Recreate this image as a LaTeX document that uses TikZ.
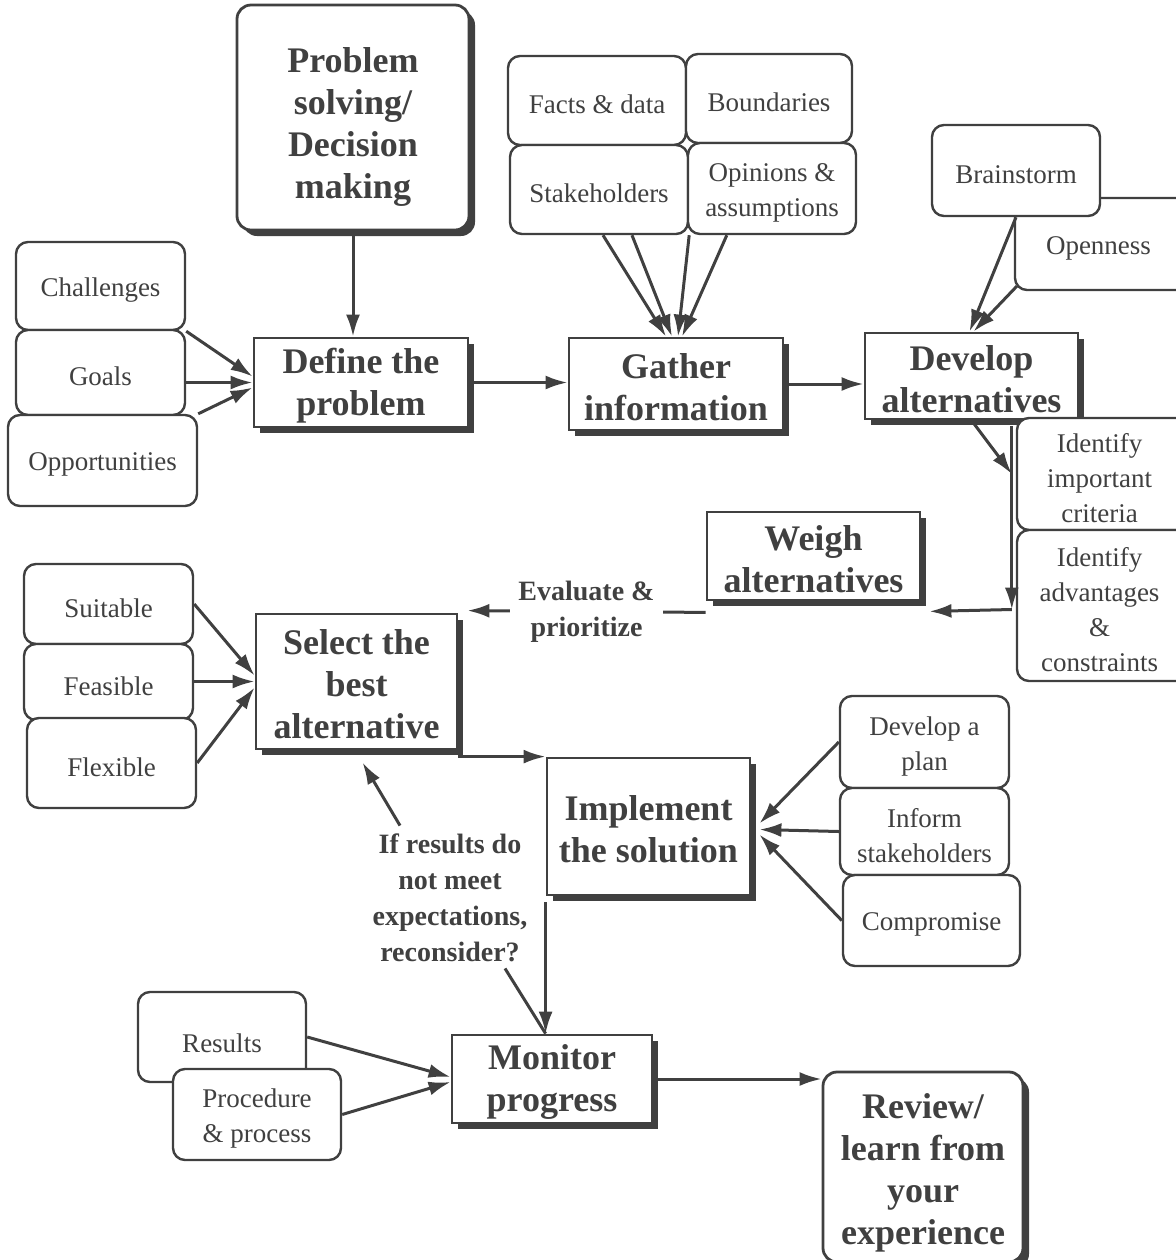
\documentclass[tikz,border=0pt]{standalone}
\usepackage{fontspec}
\setmainfont{Liberation Serif}
\usetikzlibrary{arrows.meta,shadows,fit,calc}
\definecolor{ink}{HTML}{404040}
\newcommand\stepfont{\bfseries\fontsize{18}{21}\selectfont}
\newcommand\itemfont{\fontsize{13.5}{17.5}\selectfont}
\newcommand\notefont{\bfseries\fontsize{14}{18}\selectfont}

\begin{document}
\begin{tikzpicture}[x=0.5pt,y=-0.5pt,
  stepbox/.style={draw=ink, line width=1.4pt, fill=white, inner sep=0pt,
    drop shadow={shadow xshift=3pt, shadow yshift=-3pt, fill=ink, opacity=1}},
  roundstep/.style={stepbox, rounded corners=7pt},
  steptext/.style={align=center, font=\stepfont, text=ink, inner sep=0pt, yshift=-1.5pt},
  itembox/.style={draw=ink, line width=1.2pt, fill=white, rounded corners=6pt,
    inner sep=0pt},
  itemtext/.style={align=center, font=\itemfont, text=ink, inner sep=0pt, yshift=-2pt},
  conn/.style={draw=ink, line width=1.5pt},
  arr/.style={conn, -{Latex[length=11pt,width=7pt]}},
  note/.style={font=\notefont, text=ink, align=center, inner sep=2pt}]

\useasboundingbox (0,0) rectangle (1176,1260);

% main process steps
\node[roundstep, fit={(237,5) (469,230)},
  label={[steptext, yshift=-3pt]center:{Problem\\solving/\\Decision\\making}}] (ps) {};
\node[stepbox, fit={(254,338) (468,427)},
  label={[steptext]center:{Define the\\problem}}] (def) {};
\node[stepbox, fit={(569,338) (783,430)},
  label={[steptext]center:{Gather\\information}}] (gat) {};
\node[stepbox, fit={(865,333) (1078,419)},
  label={[steptext]center:{Develop\\alternatives}}] (dev) {};
\node[stepbox, fit={(707,512) (920,600)},
  label={[steptext]center:{Weigh\\alternatives}}] (wei) {};
\node[stepbox, fit={(256,614) (457,749)},
  label={[steptext]center:{Select the\\best\\alternative}}] (sel) {};
\node[stepbox, fit={(547,758) (750,895)},
  label={[steptext]center:{Implement\\the solution}}] (imp) {};
\node[stepbox, fit={(452,1035) (652,1123)},
  label={[steptext]center:{Monitor\\progress}}] (mon) {};
\node[roundstep, fit={(823,1072) (1023,1262)},
  label={[steptext, yshift=-1.5pt]center:{Review/\\learn from\\your\\experience}}] (rev) {};

% supporting items
\node[itembox, fit={(16,242) (185,330)}, label={[itemtext]center:Challenges}] (chal) {};
\node[itembox, fit={(16,330) (185,415)}, label={[itemtext]center:Goals}] (goal) {};
\node[itembox, fit={(8,415) (197,506)}, label={[itemtext]center:Opportunities}] (opp) {};

\node[itembox, fit={(508,56) (686,145)}, label={[itemtext]center:{Facts \& data}}] (fact) {};
\node[itembox, fit={(686,54) (852,143)}, label={[itemtext]center:Boundaries}] (bound) {};
\node[itembox, fit={(510,145) (688,234)}, label={[itemtext]center:Stakeholders}] (stake) {};
\node[itembox, fit={(688,143) (856,234)}, label={[itemtext]center:{Opinions \&\\assumptions}}] (opin) {};

\node[itembox, fit={(1015,198) (1190,290)}, label={[itemtext, xshift=-2pt]center:Openness}] (open) {};
\node[itembox, fit={(932,125) (1100,216)}, label={[itemtext]center:Brainstorm}] (brain) {};

\node[itembox, fit={(1017,418) (1190,530)}, label={[itemtext, xshift=-2pt]center:{Identify\\important\\criteria}}] (crit) {};
\node[itembox, fit={(1017,530) (1190,681)}, label={[itemtext, xshift=-2pt]center:{Identify\\advantages\\\&\\constraints}}] (adv) {};

\node[itembox, fit={(24,564) (193,644)}, label={[itemtext]center:Suitable}] (suit) {};
\node[itembox, fit={(24,644) (193,720)}, label={[itemtext]center:Feasible}] (feas) {};
\node[itembox, fit={(27,718) (196,808)}, label={[itemtext]center:Flexible}] (flex) {};

\node[itembox, fit={(840,696) (1009,788)}, label={[itemtext]center:{Develop a\\plan}}] (plan) {};
\node[itembox, fit={(840,788) (1009,875)}, label={[itemtext]center:{Inform\\stakeholders}}] (inf) {};
\node[itembox, fit={(843,875) (1020,966)}, label={[itemtext]center:Compromise}] (comp) {};

\node[itembox, fit={(138,992) (306,1082)}, label={[itemtext, yshift=-1pt]center:Results}] (res) {};
\node[itembox, fit={(173,1069) (341,1160)}, label={[itemtext]center:{Procedure\\\& process}}] (proc) {};

% feedback note
\node[note] (fb) at (450,898) {If results do\\not meet\\expectations,\\reconsider?};

% helper points on the criteria branch
\coordinate (j1) at ($(crit.west)+(-4,0)$);
\coordinate (j0) at ($(j1 |- dev.south)+(0,6)$);
\coordinate (j2) at ($(adv.west)+(-4,4)$);
\coordinate (j3) at ($(wei.south east)+(8,10)$);
\coordinate (w1) at ($(wei.south west)+(0,11)$);
\coordinate (s1) at ($(sel.north east)+(9,-2)$);

% connectors
\draw[arr] (ps.south) -- (ps.south |- def.north);

\draw[arr] (chal.south east) -- ($(def.west)+(0,-6)$);
\draw[arr] (goal.east |- def.west) -- (def.west);
\draw[arr] (opp.north east) -- ($(def.west)+(0,5)$);

\draw[arr] (def.east) -- (def.east -| gat.west);

\draw[arr] ($(stake.south)+(4,0)$) -- ($(gat.north)+(-10,0)$);
\draw[arr] ($(stake.south)+(33,0)$) -- ($(gat.north)+(-4,0)$);
\draw[arr] (stake.south east) -- ($(gat.north)+(2,0)$);
\draw[arr] ($(opin.south west)+(40,0)$) -- ($(gat.north)+(6,0)$);

\draw[arr] (gat.east) -- (gat.east -| dev.west);

\draw[arr] (brain.south) -- ($(dev.north)+(-2,0)$);
\draw[arr] ($(open.south west)+(3,-5)$) -- ($(dev.north)+(2,0)$);

\draw[arr] (dev.south) -- (j1);
\draw[arr] (j0) -- (j2);
\draw[arr] (j2) -- (j3);

\draw[arr] (w1) -- node[note, fill=white, inner sep=4pt] (ev) {Evaluate \&\\prioritize} (s1);

\draw[arr] (suit.east) -- ($(sel.west)+(0,-6)$);
\draw[arr] (feas.east |- sel.west) -- (sel.west);
\draw[arr] (flex.east) -- ($(sel.west)+(0,6)$);

\draw[arr] (sel.south east |- imp.north west) -- (imp.north west);

\draw[arr] (plan.west) -- ($(imp.east)+(8,-3)$);
\draw[arr] (inf.west) -- ($(imp.east)+(8,3)$);
\draw[arr] (comp.west) -- ($(imp.east)+(8,8)$);

\draw[arr] ($(fb.north)+(-50,-4)$) -- ($(sel.south)+(6,12)$);
\draw[conn] ($(fb.south)+(55,2)$) -- (imp.south west |- mon.north);
\draw[arr] ($(imp.south west)+(0,6)$) -- (imp.south west |- mon.north);

\draw[arr] (res.east) -- ($(mon.west)+(0,-2)$);
\draw[arr] (proc.east) -- ($(mon.west)+(0,3)$);

\draw[arr] (mon.east) -- (mon.east -| rev.west);

\end{tikzpicture}
\end{document}
